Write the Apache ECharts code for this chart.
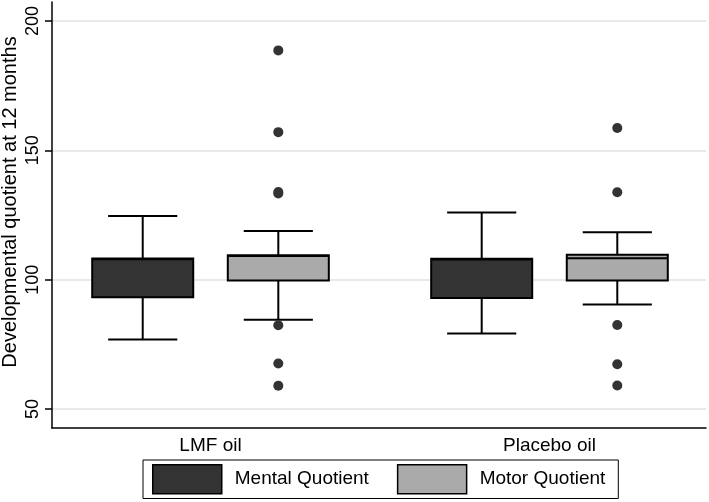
<!DOCTYPE html>
<html>
<head>
<meta charset="utf-8">
<script src="https://cdn.jsdelivr.net/npm/echarts@6/dist/echarts.min.js"></script>
<style>html,body{margin:0;padding:0;background:#fff}#c{width:709px;height:502px}</style>
</head>
<body>
<div id="c"></div>
<script>
// ---- data ----
const categories = ['LMF oil', 'Placebo oil'];
const seriesNames = ['Mental Quotient', 'Motor Quotient'];
const yTitle = 'Developmental quotient at 12 months';
// [lower whisker, Q1, median, Q3, upper whisker]
const mentalStats = [
  [76.9, 93.2, 107.9, 108.2, 124.6],
  [79.2, 92.9, 107.8, 108.1, 125.9]
];
const motorStats = [
  [84.5, 99.7, 109.1, 109.4, 118.8],
  [90.4, 99.7, 108.3, 109.6, 118.3]
];
const mentalOutliers = [[], []];
const motorOutliers = [
  [188.6, 157.0, 133.9, 133.3, 82.4, 67.6, 59.0],
  [158.6, 133.8, 82.5, 67.3, 59.1]
];
const yTicks = [50, 100, 150, 200];

// ---- style ----
const FONT = 'Liberation Sans, Arial, sans-serif';
const OFFSET = 0.2;      // box offset from category centre (axis units)
const HALF_BOX = 0.149;  // half box width (axis units)
const HALF_CAP = 0.102;  // half whisker-cap width
const colors = ['#333333', '#aaaaaa'];

function boxRenderer(offset, fill) {
  return function (params, api) {
    const x = api.value(0) + offset;
    const lo = api.value(1), q1 = api.value(2), med = api.value(3), q3 = api.value(4), hi = api.value(5);
    const pLo = api.coord([x, lo]), pQ1 = api.coord([x, q1]), pMed = api.coord([x, med]);
    const pQ3 = api.coord([x, q3]), pHi = api.coord([x, hi]);
    const xl = api.coord([x - HALF_BOX, q1])[0], xr = api.coord([x + HALF_BOX, q1])[0];
    const cl = api.coord([x - HALF_CAP, q1])[0], cr = api.coord([x + HALF_CAP, q1])[0];
    const ls = {stroke: '#000', lineWidth: 2};
    return {
      type: 'group',
      children: [
        {type: 'line', shape: {x1: pLo[0], y1: pLo[1], x2: pQ1[0], y2: pQ1[1]}, style: ls},
        {type: 'line', shape: {x1: pQ3[0], y1: pQ3[1], x2: pHi[0], y2: pHi[1]}, style: ls},
        {type: 'line', shape: {x1: cl, y1: pLo[1], x2: cr, y2: pLo[1]}, style: ls},
        {type: 'line', shape: {x1: cl, y1: pHi[1], x2: cr, y2: pHi[1]}, style: ls},
        {type: 'rect', shape: {x: xl, y: pQ3[1], width: xr - xl, height: pQ1[1] - pQ3[1]},
          style: {fill: fill, stroke: '#000', lineWidth: 2}},
        {type: 'line', shape: {x1: xl, y1: pMed[1], x2: xr, y2: pMed[1]}, style: {stroke: '#000', lineWidth: 2}}
      ]
    };
  };
}

function boxData(stats) {
  return stats.map((s, i) => [i + 1].concat(s));
}
function outlierData(outs, offset) {
  const d = [];
  outs.forEach((arr, i) => arr.forEach(v => d.push([i + 1 + offset, v])));
  return d;
}

const chart = echarts.init(document.getElementById('c'));
chart.setOption({
  animation: false,
  backgroundColor: '#fff',
  textStyle: {fontFamily: FONT},
  grid: {left: 52, right: 3, top: 2, bottom: 74, outerBoundsMode: 'none', containLabel: false},
  graphic: [{
    type: 'text', x: 10, y: 202, rotation: Math.PI / 2,
    style: {text: yTitle, fill: '#000', font: '20px ' + FONT, align: 'center', verticalAlign: 'middle'}
  }],
  xAxis: {
    type: 'value',
    min: 0.5324, max: 2.4617,
    splitLine: {show: false},
    axisLine: {show: true, lineStyle: {color: '#000', width: 1.5}},
    axisTick: {show: false},
    axisLabel: {
      customValues: [1, 2],
      formatter: v => categories[Math.round(v) - 1],
      color: '#000', fontSize: 19, fontFamily: FONT, margin: 8
    }
  },
  yAxis: {
    type: 'value',
    min: 42.66, max: 207.3,
    splitLine: {show: false},
    axisLine: {show: true, lineStyle: {color: '#000', width: 1.5}},
    axisTick: {show: true, customValues: yTicks, length: 7, lineStyle: {color: '#000', width: 1.5}},
    axisLabel: {customValues: yTicks, rotate: 90, color: '#000', fontSize: 18, fontFamily: FONT, margin: 10}
  },
  legend: {
    left: 143, top: 460,
    orient: 'horizontal',
    padding: [4, 13, 4, 9],
    borderColor: '#000', borderWidth: 1,
    itemWidth: 69, itemHeight: 29, itemGap: 28,
    textStyle: {color: '#000', fontSize: 19, fontFamily: FONT, padding: [0, 0, 0, 8]},
    data: [
      {name: seriesNames[0], icon: 'rect', itemStyle: {color: colors[0], borderColor: '#000', borderWidth: 1.5}},
      {name: seriesNames[1], icon: 'rect', itemStyle: {color: colors[1], borderColor: '#000', borderWidth: 1.5}}
    ]
  },
  series: [
    {
      name: 'grid', type: 'line', data: [], silent: true, z: 0,
      markLine: {
        silent: true, symbol: 'none', label: {show: false}, z: 0,
        lineStyle: {color: '#e2e2e2', width: 1.5, type: 'solid'},
        data: yTicks.map(v => ({yAxis: v}))
      }
    },
    {
      name: seriesNames[0], type: 'custom', itemStyle: {color: colors[0]}, z: 4,
      renderItem: boxRenderer(-OFFSET, colors[0]),
      encode: {x: 0, y: [1, 2, 3, 4, 5]},
      data: boxData(mentalStats)
    },
    {
      name: seriesNames[1], type: 'custom', itemStyle: {color: colors[1]}, z: 4,
      renderItem: boxRenderer(OFFSET, colors[1]),
      encode: {x: 0, y: [1, 2, 3, 4, 5]},
      data: boxData(motorStats)
    },
    {
      name: 'mentalOut', type: 'scatter', symbolSize: 10, itemStyle: {color: '#333333'},
      data: outlierData(mentalOutliers, -OFFSET), z: 5
    },
    {
      name: 'motorOut', type: 'scatter', symbolSize: 10, itemStyle: {color: '#333333', opacity: 1},
      data: outlierData(motorOutliers, OFFSET), z: 5
    }
  ]
});
</script>
</body>
</html>
